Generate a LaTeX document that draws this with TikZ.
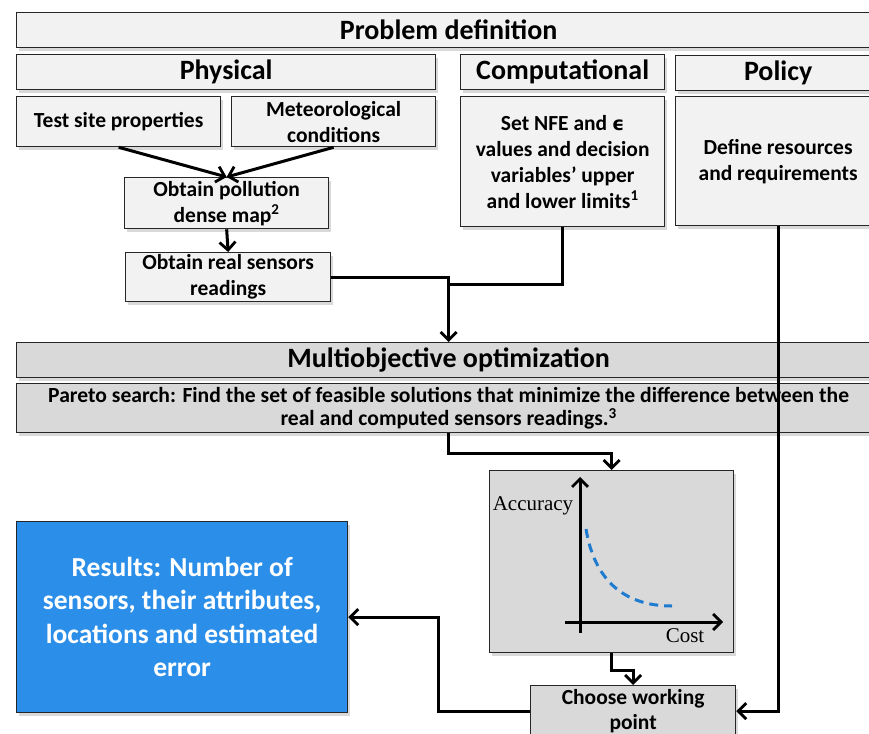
\documentclass[tikz,border=0pt]{standalone}
\usepackage{fontspec}
\setmainfont{Carlito}
\newfontfamily\chartfont{Liberation Serif}
\newfontfamily\symfont{DejaVu Sans}
\usetikzlibrary{arrows.meta,shadows,calc}
\definecolor{lg}{HTML}{F2F2F2}
\definecolor{mg}{HTML}{D9D9D9}
\definecolor{resblue}{HTML}{2B8FE9}
\definecolor{curveblue}{HTML}{1F7BCF}
\begin{document}
\begin{tikzpicture}[x=1pt,y=-1pt,
  box/.style={draw=black!85, line width=1.3pt, fill=lg, inner sep=1pt, align=center,
    anchor=north west, drop shadow={shadow xshift=2pt,shadow yshift=-3pt,opacity=0.3}},
  hdr/.style={box, font=\fontsize{28}{30}\selectfont\bfseries},
  txt/.style={box, font=\fontsize{21.5}{26}\selectfont\bfseries},
  dark/.style={fill=mg},
  arr/.style={line width=3pt, -{Straight Barb[length=8pt,width=16pt,line width=2.8pt]}},
  ln/.style={line width=3pt}
]
\useasboundingbox (0,0) rectangle (869,733);
\clip (0,0) rectangle (869,733);

% top section
\node[hdr, minimum width=864pt, minimum height=35pt] (pd) at (16,12) {Problem definition};
\node[hdr, minimum width=419pt, minimum height=35pt] (phys) at (16,54) {Physical};
\node[txt, minimum width=204pt, minimum height=50pt] (test) at (16,96) {Test site properties};
\node[txt, minimum width=204pt, minimum height=50pt] (met) at (231,96) {Meteorological\\conditions};
\node[txt, minimum width=204pt, minimum height=51pt] (dense) at (124,177) {Obtain pollution\\dense map\textsuperscript{2}};
\node[txt, minimum width=205pt, minimum height=49pt] (real) at (125,252) {Obtain real sensors\\readings};
\node[hdr, minimum width=204pt, minimum height=35pt] (comp) at (460,54) {Computational};
\node[txt, minimum width=204pt, minimum height=130pt] (nfe) at (460,96) {Set NFE and {\symfont\fontsize{19}{26}\selectfont ϵ}\\values and decision\\variables’ upper\\and lower limits\textsuperscript{1}};
\node[hdr, minimum width=205pt, minimum height=35pt] (pol) at (675,55) {Policy};
\node[txt, minimum width=205pt, minimum height=129pt] (def) at (675,96) {Define resources\\and requirements};

% optimization
\node[hdr, dark, minimum width=864pt, minimum height=35pt] (multi) at (16,342) {Multiobjective optimization};
\node[box, dark, font=\fontsize{21.6}{23.5}\selectfont\bfseries, minimum width=864pt, minimum height=49pt] (par) at (16,383)
  {Pareto search: Find the set of feasible solutions that minimize the difference between the\\real and computed sensors readings.\textsuperscript{3}};
\node[box, dark, minimum width=244pt, minimum height=182pt] (chart) at (489,470) {};
\node[box, dark, font=\fontsize{21.5}{25}\selectfont\bfseries, minimum width=205pt, minimum height=51pt] (choose) at (530,685) {Choose working\\point};
\node[hdr, fill=resblue, text=white, minimum width=331pt, minimum height=191pt, font=\fontsize{27.5}{33.5}\selectfont\bfseries] (res) at (16,521)
  {Results: Number of\\sensors, their attributes,\\locations and estimated\\error};

% chart contents
\coordinate (yb) at (580,633);
\coordinate (yt) at (580,477);
\coordinate (xl) at (565,622);
\coordinate (xr) at (723,622);
\draw[arr] (yb) -- (yt);
\draw[arr] (xl) -- (xr);
\node[font=\fontsize{21}{22}\selectfont\chartfont] (acc) at (533,506) {Accuracy};
\node[font=\fontsize{21}{22}\selectfont\chartfont] (cost) at (685,636) {Cost};
\draw[curveblue, line width=3pt, dash pattern=on 9pt off 6pt] (586,529) .. controls (594,578) and (622,606) .. (672,606);

% connectors
\draw[arr] (test.south) -- (dense.north);
\draw[arr] (met.south) -- (dense.north);
\draw[arr] (dense.south) -- (real.north);
\coordinate (j) at (448,284);
\draw[ln] (nfe.south) |- (j);
\draw[arr] (real.east) -| (multi.north);
\draw[arr] (par.south) -- ++(0,20) -| (chart.north);
\draw[arr] (chart.south) -- ++(0,17) -| (choose.north);
\draw[arr] (def.south) |- (choose.east);
\draw[arr] (choose.west) -- ++(-92,0) |- (res.east);
\end{tikzpicture}
\end{document}
